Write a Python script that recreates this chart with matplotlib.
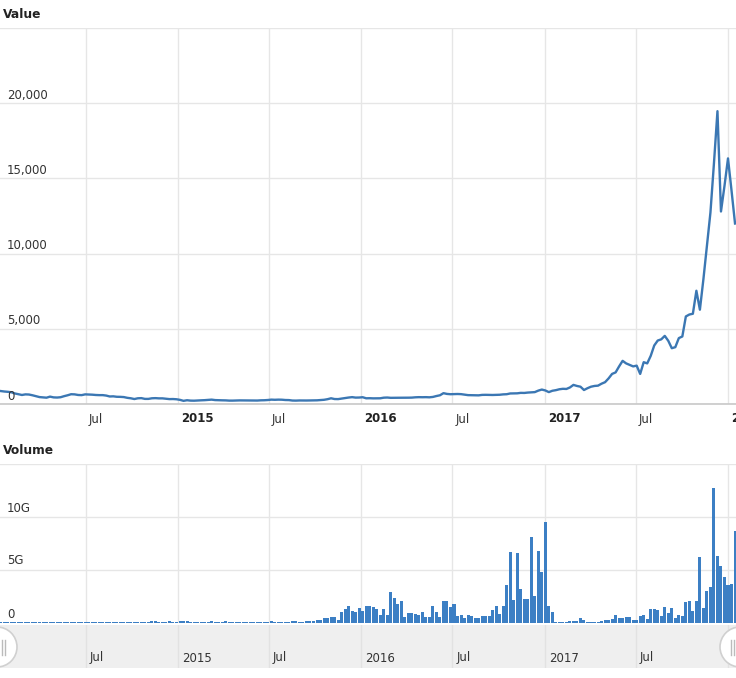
import matplotlib
matplotlib.use("Agg")
import matplotlib.pyplot as plt
import matplotlib.dates as mdates
import matplotlib.transforms as mtrans
from matplotlib.patches import Ellipse, Rectangle
from matplotlib.lines import Line2D
import pandas as pd
from datetime import datetime

plt.rcParams['font.family'] = ['DejaVu Sans']

# ---------------- data ----------------
start_week = "2014-01-13"
n_weeks = 210

price_2014 = [860, 830, 810, 780, 700, 650, 600, 640, 630, 580,
              520, 460, 440, 420, 490, 440, 430, 450, 520, 580,
              650, 640, 600, 590, 640, 630, 620, 600, 590, 590,
              560, 500, 510, 480, 475, 460, 410, 380, 330, 380,
              390, 340, 340, 380, 390, 375, 375, 350, 325, 330, 315]
price_2015 = [275, 210, 250, 225, 220, 235, 245, 255, 275, 290,
              260, 250, 245, 240, 225, 225, 235, 240, 237, 235,
              230, 225, 230, 245, 250, 265, 290, 280, 290, 285,
              265, 260, 230, 225, 235, 230, 232, 235, 240, 245,
              265, 280, 320, 380, 330, 325, 360, 390, 430, 455, 425, 430]
price_2016 = [450, 380, 385, 375, 375, 380, 420, 430, 410, 415,
              415, 415, 420, 420, 425, 445, 455, 450, 455, 445,
              470, 530, 580, 720, 670, 650, 660, 665, 655, 625,
              590, 585, 580, 575, 605, 610, 605, 600, 610, 615,
              640, 650, 700, 705, 710, 740, 735, 760, 775, 790, 890, 960]
price_2017 = [900, 790, 880, 920, 980, 1010, 1000, 1100, 1270, 1200,
              1150, 930, 1050, 1150, 1200, 1220, 1350, 1450, 1700, 2000,
              2100, 2500, 2870, 2700, 2600, 2500, 2550, 2000, 2780, 2700,
              3200, 3890, 4220, 4300, 4530, 4200, 3710, 3780, 4380, 4490,
              5820, 5950, 6000, 7530, 6270, 8300, 10500, 12730, 16000, 19470,
              12800, 14500]
price_2018 = [16330, 14200, 12000]

# weekly volume in billions (G)
volume_2014 = [0.06, 0.06, 0.06, 0.06, 0.06, 0.06, 0.06, 0.06, 0.06, 0.06,
               0.06, 0.06, 0.06, 0.06, 0.06, 0.06, 0.06, 0.06, 0.06, 0.06,
               0.06, 0.06, 0.06, 0.06, 0.06, 0.06, 0.06, 0.06, 0.06, 0.06,
               0.06, 0.06, 0.06, 0.06, 0.06, 0.06, 0.06, 0.06, 0.06, 0.06,
               0.06, 0.06, 0.12, 0.15, 0.15, 0.12, 0.1, 0.12, 0.15, 0.05, 0.12]
volume_2015 = [0.18, 0.2, 0.15, 0.12, 0.05, 0.1, 0.12, 0.05, 0.12, 0.15,
               0.1, 0.05, 0.12, 0.15, 0.12, 0.1, 0.05, 0.05, 0.1, 0.12,
               0.05, 0.1, 0.12, 0.1, 0.05, 0.12, 0.15, 0.12, 0.1, 0.08,
               0.12, 0.1, 0.15, 0.2, 0.12, 0.12, 0.15, 0.2, 0.2, 0.25,
               0.3, 0.45, 0.5, 0.6, 0.55, 0.3, 1.0, 1.3, 1.65, 1.1, 1.0, 1.4]
volume_2016 = [1.1, 1.65, 1.6, 1.5, 1.3, 0.8, 1.3, 0.8, 2.95, 2.4,
               1.75, 2.05, 0.55, 0.95, 0.9, 0.85, 0.8, 1.0, 0.55, 0.55,
               1.65, 1.0, 0.55, 2.05, 2.05, 1.5, 1.75, 0.65, 0.8, 0.5,
               0.8, 0.65, 0.5, 0.5, 0.65, 0.7, 0.65, 1.2, 1.65, 0.85,
               1.65, 3.55, 6.7, 2.15, 6.6, 3.25, 2.3, 2.3, 8.1, 2.55, 6.8, 4.8]
volume_2017 = [9.5, 1.65, 1.0, 0.1, 0.1, 0.1, 0.1, 0.2, 0.2, 0.2,
               0.5, 0.3, 0.1, 0.1, 0.1, 0.1, 0.15, 0.25, 0.3, 0.4,
               0.8, 0.5, 0.5, 0.55, 0.55, 0.25, 0.25, 0.65, 0.8, 0.4,
               1.35, 1.35, 1.2, 0.65, 1.5, 0.95, 1.4, 0.5, 0.8, 0.65,
               2.0, 2.05, 1.1, 2.05, 6.2, 1.4, 3.0, 3.35, 12.75, 6.35,
               5.4, 4.3]
volume_2018 = [3.55, 3.65, 8.65]

value_ticks = [0, 5000, 10000, 15000, 20000, 25000]
value_tick_labels = ["0", "5,000", "10,000", "15,000", "20,000", ""]
volume_ticks = [0, 5, 10, 15]
volume_tick_labels = ["0", "5G", "10G", ""]
x_tick_dates = ["2014-07-01", "2015-01-01", "2015-07-01", "2016-01-01",
                "2016-07-01", "2017-01-01", "2017-07-01", "2018-01-01"]
x_tick_labels = ["Jul", "2015", "Jul", "2016", "Jul", "2017", "Jul", "2018"]
x_tick_bold = [False, True, False, True, False, True, False, True]

dates = pd.date_range(start_week, periods=n_weeks, freq="7D")
price = price_2014 + price_2015 + price_2016 + price_2017 + price_2018
volume = volume_2014 + volume_2015 + volume_2016 + volume_2017 + volume_2018

# ---------------- layout ----------------
W, H = 736, 678
fig = plt.figure(figsize=(W / 100, H / 100), dpi=100)
fig.patch.set_facecolor("white")

def rect(top, bottom):
    return [0, 1 - bottom / H, 1, (bottom - top) / H]

ax1 = fig.add_axes(rect(28, 404))
ax2 = fig.add_axes(rect(464, 623))
ax3 = fig.add_axes(rect(625, 668))

# x range (pixel 0 .. 736)
px_per_day = 550 / 1096.0
x_left = mdates.date2num(datetime(2015, 1, 1)) - 178 / px_per_day
x_right = x_left + W / px_per_day

LINE = "#3b77b3"
BAR = "#3c7fc4"
GRID = "#e6e6e6"
TXT = "#333333"
tick_nums = [mdates.date2num(pd.Timestamp(d)) for d in x_tick_dates]

for ax in (ax1, ax2, ax3):
    ax.set_xlim(x_left, x_right)
    for s in ax.spines.values():
        s.set_visible(False)
    ax.set_xticks(tick_nums)
    ax.set_xticklabels([])
    ax.tick_params(length=0, labelleft=False, labelbottom=False)
    ax.grid(True, axis="x", color=GRID, lw=1)
    ax.set_axisbelow(True)

# ---- Value panel ----
ax1.plot(mdates.date2num(dates), price, color=LINE, lw=1.7, solid_joinstyle="round", zorder=3)
ax1.set_ylim(0, 25000)
ax1.set_yticks(value_ticks)
ax1.grid(True, axis="y", color=GRID, lw=1)
ax1.spines["bottom"].set_visible(True)
ax1.spines["bottom"].set_color("#c8c8c8")
ax1.spines["bottom"].set_linewidth(1.2)

ylab_tr1 = mtrans.offset_copy(mtrans.blended_transform_factory(ax1.transAxes, ax1.transData),
                              fig=fig, x=7, y=8, units="dots")
for v, lab in zip(value_ticks, value_tick_labels):
    ax1.text(0, v, lab, transform=ylab_tr1, ha="left", va="center", fontsize=8.5, color=TXT)

xlab_tr1 = mtrans.offset_copy(mtrans.blended_transform_factory(ax1.transData, ax1.transAxes),
                              fig=fig, x=3, y=-15, units="dots")
for d, lab, b in zip(tick_nums, x_tick_labels, x_tick_bold):
    ax1.text(d, 0, lab, transform=xlab_tr1, ha="left", va="center", fontsize=8.5,
             color="#222222" if b else TXT, fontweight="bold" if b else "normal", clip_on=False)

# ---- Volume panel ----
ax2.bar(mdates.date2num(dates), volume, width=6.0, color=BAR, linewidth=0, zorder=3)
ax2.set_ylim(0, 15)
ax2.set_yticks(volume_ticks)
ax2.grid(True, axis="y", color=GRID, lw=1)
ylab_tr2 = mtrans.offset_copy(mtrans.blended_transform_factory(ax2.transAxes, ax2.transData),
                              fig=fig, x=7, y=9, units="dots")
for v, lab in zip(volume_ticks, volume_tick_labels):
    ax2.text(0, v, lab, transform=ylab_tr2, ha="left", va="center", fontsize=8.5, color=TXT)

# ---- Navigator band ----
ax3.set_facecolor("#efefef")
ax3.set_ylim(0, 1)
ax3.grid(True, axis="x", color="#e2e2e2", lw=1)
xlab_tr3 = mtrans.offset_copy(mtrans.blended_transform_factory(ax3.transData, ax3.transAxes),
                              fig=fig, x=4, y=10, units="dots")
for d, lab in zip(tick_nums[:-1], x_tick_labels[:-1]):
    ax3.text(d, 0, lab, transform=xlab_tr3, ha="left", va="center", fontsize=8.5, color=TXT)

# navigator handles
for cx in (-3, 740):
    e = Ellipse((cx / W, 1 - 647 / H), width=40 / W, height=40 / H, transform=fig.transFigure,
                facecolor="white", edgecolor="#d0d0d0", lw=1.2, zorder=10)
    fig.add_artist(e)
for gx in (2, 5, 731, 734):
    fig.add_artist(Line2D([gx / W, gx / W], [1 - 640 / H, 1 - 655 / H], transform=fig.transFigure,
                          color="#bbbbbb", lw=1, zorder=11))

# ---- titles ----
fig.text(3 / W, 1 - 14 / H, "Value", ha="left", va="center", fontsize=8.8, fontweight="bold", color="#222222")
fig.text(3 / W, 1 - 450 / H, "Volume", ha="left", va="center", fontsize=8.8, fontweight="bold", color="#222222")

fig.savefig("out.png", dpi=100, facecolor="white")
